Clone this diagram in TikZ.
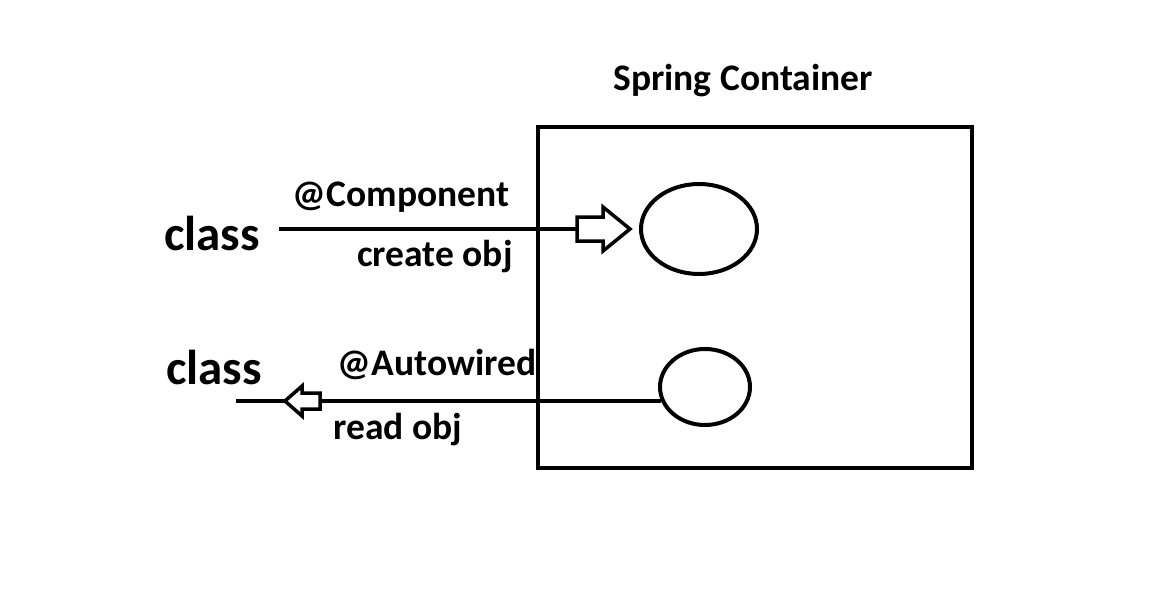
\documentclass[tikz,border=0pt]{standalone}
\usepackage{fontspec}
\setmainfont{Carlito}
\usetikzlibrary{shapes.geometric}

\begin{document}
\begin{tikzpicture}[x=1pt,y=-1pt,line width=4pt]
 \tikzstyle{every node}=[inner sep=0pt,font=\bfseries\fontsize{37.5}{37.5}\selectfont]
 \tikzstyle{big}=[font=\bfseries\fontsize{49}{49}\selectfont]
 \tikzstyle{blk}=[draw,fill=white,line width=3.5pt]
 \useasboundingbox (0,0) rectangle (1164,602);
 % container and objects
 \node (title) at (743,81) {Spring Container};
 \node[draw,minimum width=434,minimum height=341] (box) at (755,297.5) {};
 \node[draw,ellipse,minimum width=116,minimum height=90] (e1) at (699,229) {};
 \node[draw,ellipse,minimum width=90,minimum height=76] (e2) at (705,387) {};
 % classes
 \node[big] (c1) at (212,233) {class};
 \node[big] (c2) at (214,367) {class};
 \node (comp) at (401,197) {@Component};
 \node (cre) at (435,257) {create obj};
 \node (auto) at (437,364) {@Autowired};
 \node (rd) at (398,430) {read obj};
 \coordinate (t1) at (630,229);
 \coordinate (t2) at (285,401);
 \coordinate (s2) at (236,401);
 \coordinate (r2) at (661,401);
 \path[draw]
 (c1.east)+(17,-4) -- (t1)
 (r2) -- (s2)
 ;
 % hollow block arrows
 \draw[blk] (t1) -- ++(-27,-22) -- ++(0,10) -- ++(-26,0) -- ++(0,24)
  -- ++(26,0) -- ++(0,10) -- cycle;
 \draw[blk] (t2) -- ++(17,-15) -- ++(0,7) -- ++(18,0) -- ++(0,16)
  -- ++(-18,0) -- ++(0,7) -- cycle;
\end{tikzpicture}
\end{document}
